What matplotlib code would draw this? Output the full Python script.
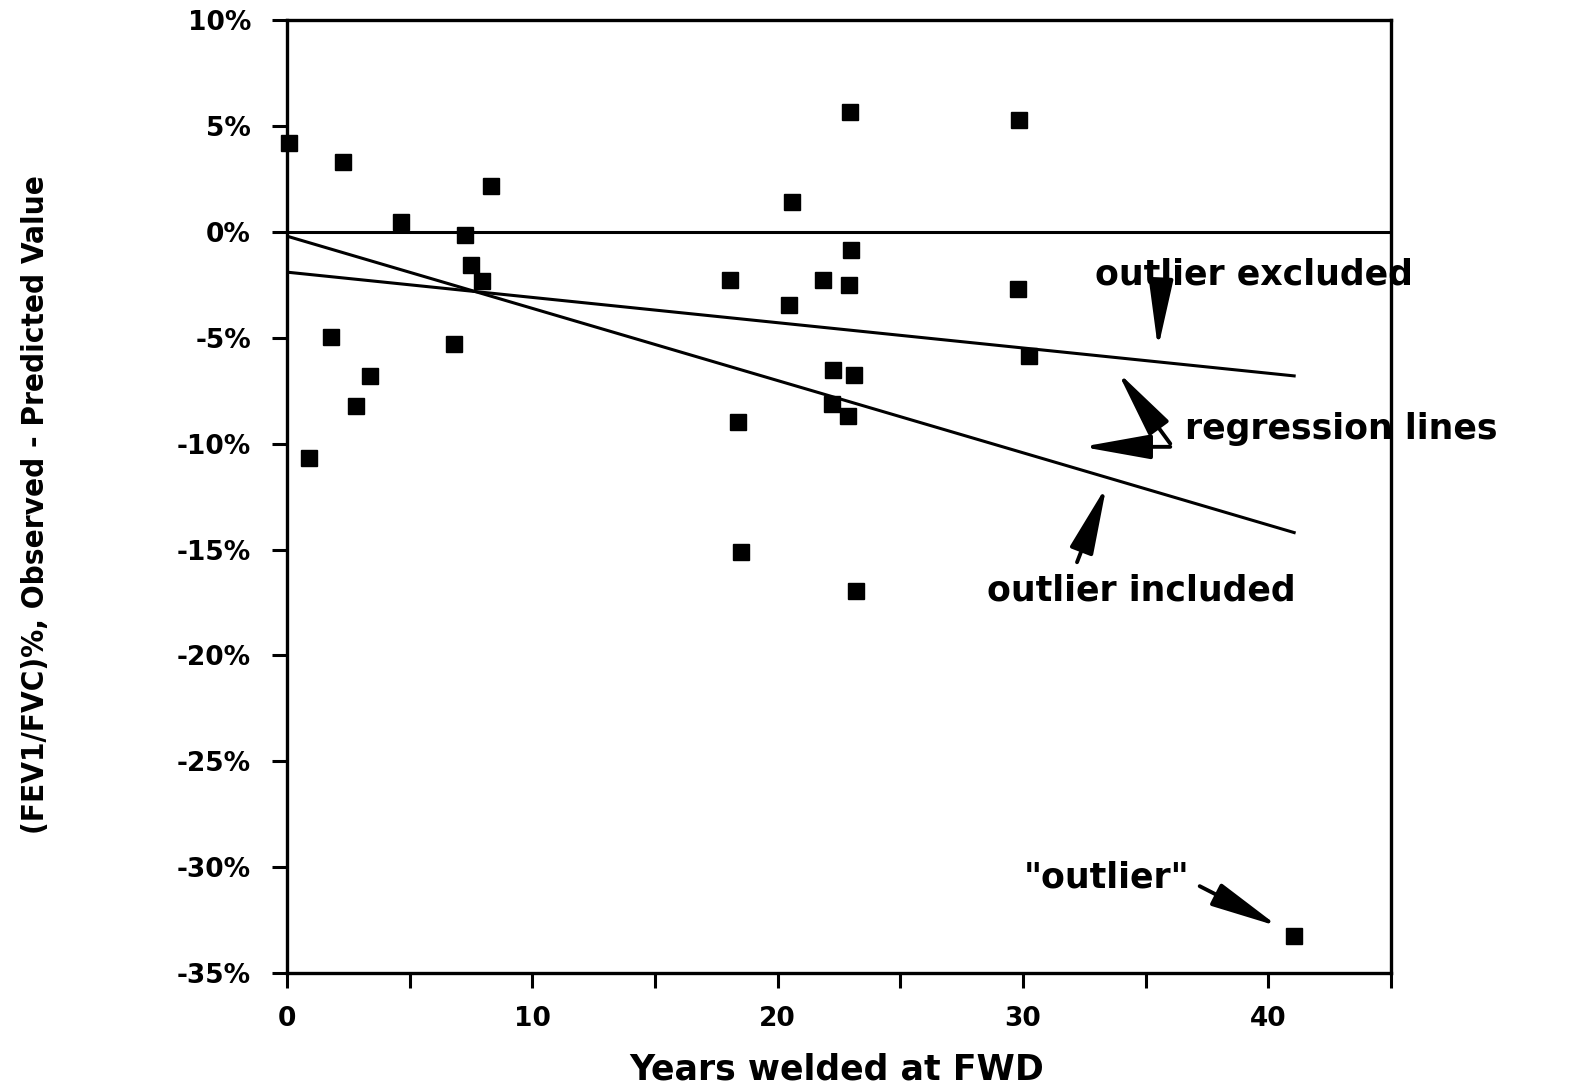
import matplotlib
matplotlib.use("Agg")
import matplotlib.pyplot as plt

# ---- data ----
years = [0.1, 2.3, 8.3, 4.65, 7.25, 7.5, 7.95, 1.8, 6.8, 3.4, 2.8, 0.9,
         22.95, 29.85, 20.6, 23.0, 18.05, 21.85, 22.9, 29.8, 20.45, 30.25,
         22.25, 23.1, 22.2, 22.85, 18.4, 18.5, 23.2, 41.05]
resid = [4.2, 3.3, 2.15, 0.45, -0.15, -1.55, -2.3, -4.95, -5.3, -6.8, -8.2, -10.7,
         5.65, 5.3, 1.4, -0.85, -2.25, -2.25, -2.5, -2.7, -3.45, -5.85,
         -6.5, -6.75, -8.15, -8.7, -9.0, -15.1, -16.95, -33.25]

line_x = [0, 41.05]
line_included = [-0.2, -14.2]
line_excluded = [-1.9, -6.8]

yticks = [10, 5, 0, -5, -10, -15, -20, -25, -30, -35]
ytick_labels = ["10%", "5%", "0%", "-5%", "-10%", "-15%", "-20%", "-25%", "-30%", "-35%"]
xticks = [0, 5, 10, 15, 20, 25, 30, 35, 40, 45]
xtick_labels = ["0", "", "10", "", "20", "", "30", "", "40", ""]

xlabel = "Years welded at FWD"
ylabel = "(FEV1/FVC)%, Observed - Predicted Value"

# ---- figure ----
fig = plt.figure(figsize=(15.84, 10.92), dpi=100)
ax = fig.add_axes([0.1812, 0.1090, 0.6970, 0.8725])

ax.set_xlim(0, 45)
ax.set_ylim(-35, 10)

ax.axhline(0, color="black", lw=2.2, zorder=1)
ax.plot(line_x, line_included, color="black", lw=2.2, zorder=2)
ax.plot(line_x, line_excluded, color="black", lw=2.2, zorder=2)
ax.plot(years, resid, linestyle="none", marker="s", markersize=11.5,
        color="black", clip_on=False, zorder=3)

for s in ax.spines.values():
    s.set_linewidth(2.4)
    s.set_color("black")

ax.set_yticks(yticks)
ax.set_yticklabels(ytick_labels)
ax.set_xticks(xticks)
ax.set_xticklabels(xtick_labels)
ax.tick_params(axis="both", direction="out", length=11, width=2.2, color="black")
ax.tick_params(axis="y", pad=15, labelsize=19)
ax.tick_params(axis="x", pad=13, labelsize=19)
for lab in ax.get_xticklabels() + ax.get_yticklabels():
    lab.set_fontweight("bold")

fig.text(0.528, 0.021, xlabel, ha="center", va="center",
         fontsize=25, fontweight="bold")
fig.text(0.0225, 0.5375, ylabel, ha="center", va="center", rotation=90,
         fontsize=22.5, fontweight="bold", fontstretch="condensed")

ap = dict(arrowstyle="-|>,head_length=1.9,head_width=0.34", color="black",
          lw=2.8, mutation_scale=22, shrinkA=0, shrinkB=0)
tkw = dict(fontsize=25, fontweight="bold", clip_on=False, va="center")

ax.text(39.4, -2.0, "outlier excluded", ha="center", **tkw)
ax.annotate("", xy=(35.5, -5.5), xytext=(35.6, -2.9), arrowprops=ap,
            annotation_clip=False)

ax.text(36.6, -9.3, "regression lines", ha="left", **tkw)
ax.annotate("", xy=(33.85, -6.6), xytext=(36.0, -10.0), arrowprops=ap,
            annotation_clip=False)
ax.annotate("", xy=(32.4, -10.15), xytext=(36.0, -10.15), arrowprops=ap,
            annotation_clip=False)

ax.text(34.8, -16.95, "outlier included", ha="center", **tkw)
ax.annotate("", xy=(33.4, -12.0), xytext=(32.2, -15.6), arrowprops=ap,
            annotation_clip=False)

ax.text(33.4, -30.5, "\"outlier\"", ha="center", **tkw)
ax.annotate("", xy=(40.4, -32.8), xytext=(37.2, -30.9), arrowprops=ap,
            annotation_clip=False)

fig.savefig("out.png", dpi=100, facecolor="white")
